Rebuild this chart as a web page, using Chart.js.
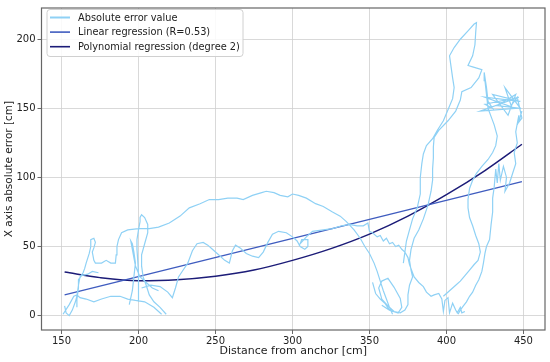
<!DOCTYPE html>
<html>
<head>
<meta charset="utf-8">
<script src="https://cdn.jsdelivr.net/npm/chart.js@4.4.1/dist/chart.umd.min.js"></script>
<style>
  html, body { margin: 0; padding: 0; background: #fff; }
  #wrap { width: 550px; height: 362px; }
</style>
</head>
<body>
<div id="wrap"><canvas id="errChart"></canvas></div>
<script>
// Absolute error trace (null = break in the trace)
const errX = [
    152, 153, 155, 157, 159, 160, 161, 162, 164, 165, 166, 168, 169, 169, 171, 172, 171, 170, 171, 172, 176, 179, 182, 185,
    185.5, 186, 187, 189, 193, 200, 207, 213, 220, 227, 233, 240, 246, 252, 258, 264, 268, 274, 280, 283, 288, 292, 297, 300,
    304, 309, 315, 320, 326, 331, 335, 340, 344, 347, 350, 353, 355, 357, 359, 361, 363, 365,
    null,
    202, 208, 214, 219, 222, 224, 226, 229, 232, 235, 238, 242, 245, 248, 252, 256, 259, 261, 263, 266, 270, 274, 278, 281,
    284, 287, 291, 296, 300, 303, 305, 308, 310, 310, 306, 305, 309, 313, 320, 326, 332, 337, 342, 346, 349, 350, 352, 355,
    357, 359, 361, 363, 365, 367, 369, 371, 373, 375, 376, 377, 379, 382, 385, 387, 390, 392, 395, 397, 398, 399, 401, 402,
    404, 406, 407, 409, 410, 412,
    null,
    398, 402, 406, 409, 412, 415, 418, 420.5, 422, 421, 419, 417, 415, 414, 414, 415, 417, 419.5, 423, 427, 430, 432, 433, 431,
    429, 427, 426, 425, 424.5, 426, 427, 430, 425, 447, 422, 445, 425, 448, 430, 440, 445, 433, 448, 438, 442, 446, 448, 449,
    447, 449, 446, 447, 445, 446, 444, 445, 443, 441, 438, 439, 437, 435, 434, 433, 432, 431, 430, 430, 429, 428, 426, 425,
    424, 423, 421, 419, 417, 415, 413, 411, 409, 407.5,
    null,
    372, 373, 374, 376, 378, 381, 383, 383, 384, 385, 387, 391, 394, 398, 401, 404, 405, 404, 403, 402, 405, 409, 414, 418,
    419.5, 419, 418.5, 417, 414, 417, 423, 421, 416, 410, 409, 406, 401, 395, 392, 391.5, 391.5, 391, 391, 390, 388, 385, 382,
    379, 377, 376, 377, 378, 376, 375, 375, 373, 370, 366, 362, 358, 356, 358, 362, 366, 370, 371, 368.6, 363, 358, 354.8,
    null,
    352, 354, 357, 360, 363, 366,
    null,
    200, 200, 200, 199.5, 199, 199, 200, 201, 201, 202, 204, 206, 206, 204, 202, 202, 203, 205, 207, 210, 214, 218, 221,
    null,
    151, 155, 158, 160, 162, 166, 171, 176, 182, 188, 193, 198, 204, 210, 215, 219,
    null,
    160, 160, 161, 161, 163, 167, 170, 174, 178,
    null,
    194, 196, 197, 198, 197, 196, 195, 196, 198, 201, 205, 209, 213, 216
];
const errY = [
    7, 2, 0, 4, 10, 14, 22, 28, 31, 34, 38, 45, 50, 55, 56, 53, 49, 46, 40, 38, 38, 40, 38, 38,
    44, 50, 55, 60, 62, 63, 63, 64, 67, 72, 78, 81, 84, 84, 85, 85, 84, 87, 89, 90, 89, 87, 86, 88,
    87, 85, 81, 79, 75, 72, 68, 62, 56, 50, 45, 38, 32, 25, 18, 12, 6, 1,
    null,
    20, 22, 21, 17, 13, 20, 28, 33, 38, 47, 52, 53, 51, 48, 44, 40, 38, 47, 51, 49, 45, 43, 42, 46,
    53, 59, 61, 60, 57, 54, 50, 48, 50, 55, 55, 52, 57, 61, 62, 63, 65, 66, 65, 65, 67, 61, 60, 57,
    58, 54, 56, 52, 53, 50, 51, 48, 46, 42, 37, 34, 28, 24, 21, 17, 14, 15, 16, 12, 3, 11, 13, 2,
    9, 4, 2, 6, 2, 3,
    null,
    14, 18, 22, 25, 29, 33, 37, 40, 46, 52, 58, 65, 71, 78, 84, 92, 98, 103, 108, 113, 118, 123, 130, 138,
    144, 150, 160, 170, 176, 165, 155, 150, 153, 158, 148, 150, 158, 155, 160, 145, 160, 152, 150, 165, 152, 158, 148, 143,
    140, 148, 138, 145, 133, 125, 118, 110, 103, 96, 90, 100, 108, 98, 110, 96, 106, 93, 85, 75, 66, 55, 50, 45,
    38, 32, 26, 22, 17, 14, 10, 7, 4, 1,
    null,
    38, 46, 54, 62, 70, 78, 88, 100, 110, 117, 123, 128, 134, 141, 149, 157, 165, 172, 180, 188, 194, 200, 206, 211,
    212, 205, 196, 188, 181, 180, 178, 172, 165, 162, 156, 148, 141, 134, 129, 122, 114, 106, 98, 90, 80, 70, 62,
    56, 48, 40, 33, 28, 22, 15, 8, 4, 2, 3, 7, 12, 20, 25, 27, 20.5, 12.5, 6, 1.8, 4, 7.5,
    null,
    33, 24, 16, 12, 9, 4,
    null,
    0, 10, 20, 30, 40, 48, 55, 62, 68, 71, 73, 71, 66, 60, 52, 44, 36, 28, 22, 15, 10, 6, 1,
    null,
    6, 1, 8, 14, 15, 13, 12, 10, 12, 14, 14, 12, 11, 10, 6, 1,
    null,
    0, 6, 12, 20, 26, 29, 30, 32, 31,
    null,
    0, 8, 18, 28, 38, 46, 52, 54, 48, 36, 28, 24, 20, 18
];

// Linear regression (R=0.53)
const linX = [152, 449];
const linY = [15, 97];

// Polynomial regression (degree 2)
const polyX = [152, 175, 200, 225, 250, 275, 300, 325, 350, 375, 400, 425, 449];
const polyY = [31.5, 27.5, 25.3, 26, 28.5, 33, 40, 48.5, 59, 72, 87.5, 105, 124];

const xTicks = [150, 200, 250, 300, 350, 400, 450];
const yTicks = [0, 50, 100, 150, 200];

const FONT = "'DejaVu Sans', sans-serif";

function toPoints(xs, ys) {
    return xs.map((x, i) => (x === null ? { x: null, y: null } : { x: x, y: ys[i] }));
}

// frame around the plot + legend box in the upper left
const framePlugin = {
    id: "frame",
    afterDatasetsDraw(chart) {
        const { ctx, chartArea: a } = chart;
        ctx.save();
        ctx.strokeStyle = "#666";
        ctx.lineWidth = 1.2;
        ctx.strokeRect(a.left, a.top, a.right - a.left, a.bottom - a.top);

        // legend
        const bx = 47, by = 9.5, bw = 196, bh = 47;
        ctx.fillStyle = "rgba(255,255,255,0.85)";
        ctx.strokeStyle = "#d0d0d0";
        ctx.lineWidth = 1;
        ctx.beginPath();
        ctx.roundRect(bx, by, bw, bh, 3);
        ctx.fill();
        ctx.stroke();

        ctx.font = "9.8px " + FONT;
        ctx.textBaseline = "middle";
        chart.data.datasets.forEach((ds, i) => {
            const ry = 17.5 + i * 14.6;
            ctx.strokeStyle = ds.borderColor;
            ctx.lineWidth = i === 0 ? 2 : 1.6;
            ctx.beginPath();
            ctx.moveTo(50, ry);
            ctx.lineTo(70, ry);
            ctx.stroke();
            ctx.fillStyle = "#222";
            ctx.fillText(ds.label, 78, ry + 0.5);
        });
        ctx.restore();
    }
};

const gridOpts = {
    color: "#cfcfcf",
    lineWidth: 0.8,
    borderDash: [1.5, 1.5],
    tickColor: "#444",
    tickBorderDash: [],
    tickLength: 4
};

new Chart(document.getElementById("errChart"), {
    type: "scatter",
    data: {
        datasets: [
            {
                label: "Absolute error value",
                data: toPoints(errX, errY),
                showLine: true,
                spanGaps: false,
                borderColor: "#8fd1f5",
                borderWidth: 1.2,
                pointRadius: 0,
                tension: 0
            },
            {
                label: "Linear regression (R=0.53)",
                data: toPoints(linX, linY),
                showLine: true,
                borderColor: "#3f5cbf",
                borderWidth: 1.4,
                pointRadius: 0
            },
            {
                label: "Polynomial regression (degree 2)",
                data: toPoints(polyX, polyY),
                showLine: true,
                borderColor: "#1c1c78",
                borderWidth: 1.5,
                pointRadius: 0,
                cubicInterpolationMode: "monotone"
            }
        ]
    },
    options: {
        responsive: true,
        maintainAspectRatio: false,
        animation: false,
        layout: { padding: { top: 5, right: 5, left: 0, bottom: 0 } },
        plugins: {
            legend: { display: false },
            tooltip: { enabled: false }
        },
        scales: {
            x: {
                type: "linear",
                min: 137,
                max: 464,
                afterBuildTicks: scale => { scale.ticks = xTicks.map(v => ({ value: v })); },
                afterFit: scale => { scale.height = 32; },
                grid: gridOpts,
                border: { display: false },
                ticks: { color: "#222", font: { family: FONT, size: 10 }, padding: 1, maxRotation: 0 },
                title: {
                    display: true,
                    text: "Distance from anchor [cm]",
                    color: "#222",
                    font: { family: FONT, size: 11 },
                    padding: { top: 0, bottom: 4 }
                }
            },
            y: {
                type: "linear",
                min: -10.4,
                max: 222.6,
                afterBuildTicks: scale => { scale.ticks = yTicks.map(v => ({ value: v })); },
                afterFit: scale => { scale.width = 41.5; },
                grid: gridOpts,
                border: { display: false },
                ticks: { color: "#222", font: { family: FONT, size: 10 }, padding: 2 },
                title: {
                    display: true,
                    text: "X axis absolute error [cm]",
                    color: "#222",
                    font: { family: FONT, size: 10.5 },
                    padding: { top: 3, bottom: 0 }
                }
            }
        }
    },
    plugins: [framePlugin]
});
</script>
</body>
</html>
